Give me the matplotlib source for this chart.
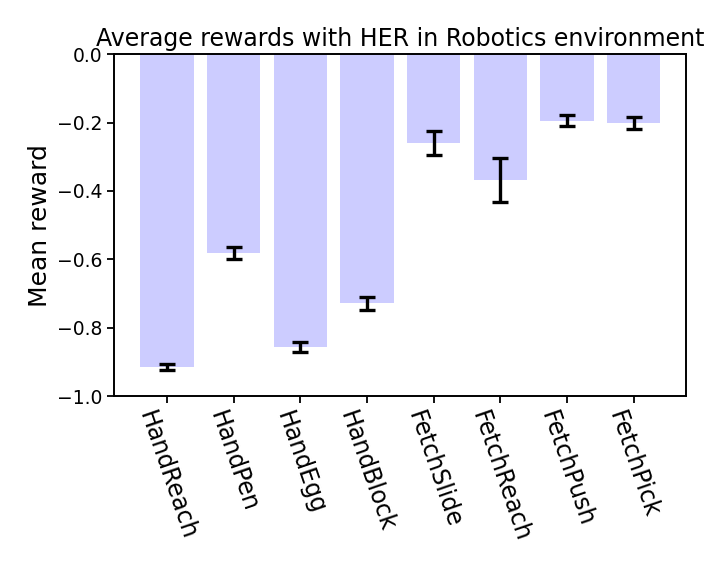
import numpy as np
import matplotlib
matplotlib.use("Agg")
import matplotlib.pyplot as plt

# ---- Data ----
envs = ["HandReach", "HandPen", "HandEgg", "HandBlock",
        "FetchSlide", "FetchReach", "FetchPush", "FetchPick"]
mean_reward = [-0.915, -0.582, -0.857, -0.728, -0.259, -0.368, -0.195, -0.201]
std_reward = [0.010, 0.018, 0.015, 0.019, 0.035, 0.064, 0.016, 0.017]

# ---- Plot ----
fig = plt.figure(figsize=(7.06, 5.65), dpi=100)
ax = fig.add_axes([0.162, 0.299, 0.810, 0.605])

x = np.arange(len(envs))
ax.bar(x, mean_reward, width=0.8, color="blue", alpha=0.2)
ax.errorbar(x, mean_reward, yerr=std_reward, fmt="none", ecolor="black",
            elinewidth=2.4, capsize=6, capthick=2.4)

ax.set_ylim(-1.0, 0.0)
ax.set_xticks(x)
ax.set_xticklabels(envs, rotation=-71, fontsize=17)
ax.tick_params(axis="y", labelsize=13.5)
ax.tick_params(width=1.3, length=5)
for s in ax.spines.values():
    s.set_linewidth(1.4)
ax.set_ylabel("Mean reward", fontsize=18)
ax.set_title("Average rewards with HER in Robotics environment", fontsize=17)

fig.savefig("out.png", dpi=100)
